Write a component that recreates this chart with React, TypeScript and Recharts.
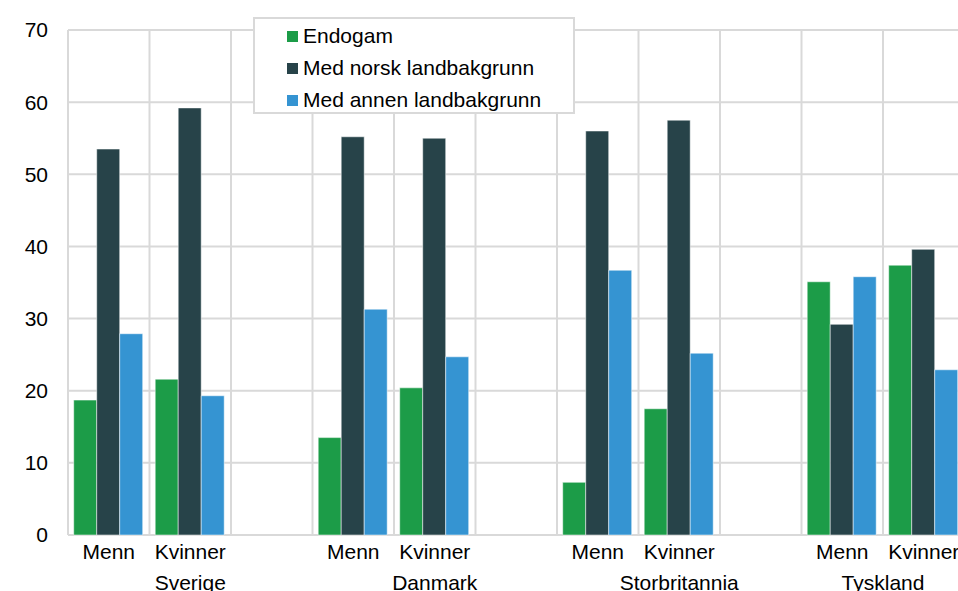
import { BarChart, Bar, XAxis, YAxis, CartesianGrid } from "recharts";

const categories = ["Menn", "Kvinner", "", "Menn", "Kvinner", "", "Menn", "Kvinner", "", "Menn", "Kvinner"];
const endogam = [18.7, 21.6, null, 13.5, 20.4, null, 7.3, 17.5, null, 35.1, 37.4];
const norsk = [53.5, 59.2, null, 55.2, 55.0, null, 56.0, 57.5, null, 29.2, 39.6];
const annen = [27.9, 19.3, null, 31.3, 24.7, null, 36.7, 25.2, null, 35.8, 22.9];

const countries = ["Sverige", "Danmark", "Storbritannia", "Tyskland"];
const groupStart = [0, 3, 6, 9];
const groupSize = [3, 3, 3, 2];

const yTicks = [0, 10, 20, 30, 40, 50, 60, 70];

const series = [
  { key: "endogam", name: "Endogam", color: "#1c9c48" },
  { key: "norsk", name: "Med norsk landbakgrunn", color: "#274349" },
  { key: "annen", name: "Med annen landbakgrunn", color: "#3594d2" },
];

const data = categories.map((c, i) => ({
  cat: c,
  endogam: endogam[i],
  norsk: norsk[i],
  annen: annen[i],
}));

const CHART_W = 980;
const CHART_H = 591;
const Y_W = 68;
const PLOT_W = 896.5;
const MARGIN = { top: 30, right: CHART_W - Y_W - PLOT_W, bottom: 0, left: 0 };
const FONT = "'Liberation Sans', Arial, sans-serif";
const FS = 21;

function CatTick({ x, y, payload, index }: any) {
  const band = PLOT_W / categories.length;
  const g = groupStart.indexOf(index);
  return (
    <g>
      <text x={x} y={y + 24} textAnchor="middle" fontSize={FS} fill="#000" fontFamily={FONT}>
        {payload.value}
      </text>
      {g >= 0 && (
        <text
          x={x + ((groupSize[g] - 1) / 2) * band}
          y={y + 55}
          textAnchor="middle"
          fontSize={FS}
          fill="#000"
          fontFamily={FONT}
        >
          {countries[g]}
        </text>
      )}
    </g>
  );
}

function LegendBox() {
  return (
    <div
      style={{
        position: "absolute",
        left: 253,
        top: 17,
        boxSizing: "border-box",
        width: 322,
        height: 97,
        border: "2px solid #d9d9d9",
        background: "#fff",
        paddingLeft: 32,
        paddingTop: 1,
        fontFamily: FONT,
        fontSize: FS,
        color: "#000",
      }}
    >
      {series.map((s) => (
        <div key={s.key} style={{ display: "flex", alignItems: "center", height: 32 }}>
          <span style={{ width: 11, height: 11, background: s.color, marginRight: 5, display: "inline-block" }} />
          <span>{s.name}</span>
        </div>
      ))}
    </div>
  );
}

export default function App() {
  return (
    <div
      style={{
        position: "absolute",
        left: 0,
        top: 0,
        width: 958,
        height: 591,
        overflow: "hidden",
        background: "#fff",
        fontFamily: FONT,
      }}
    >
      <BarChart width={CHART_W} height={CHART_H} data={data} margin={MARGIN} barCategoryGap="7%" barGap={0}>
        <CartesianGrid
          stroke="#d9d9d9"
          strokeWidth={2}
          verticalCoordinatesGenerator={({ offset }: any) =>
            categories.map((_, i) => offset.left + (i * offset.width) / categories.length).concat(offset.left + offset.width)
          }
        />
        <XAxis
          dataKey="cat"
          axisLine={false}
          tickLine={false}
          tickSize={0}
          tickMargin={0}
          height={56}
          interval={0}
          tick={<CatTick />}
        />
        <YAxis
          width={Y_W}
          domain={[0, 70]}
          ticks={yTicks}
          axisLine={false}
          tickLine={false}
          tickSize={0}
          tickMargin={20}
          tick={{ fontSize: FS, fill: "#000", fontFamily: FONT }}
        />
        {series.map((s) => (
          <Bar
            key={s.key}
            dataKey={s.key}
            name={s.name}
            fill={s.color}
            stroke="#ffffff"
            strokeOpacity={0.5}
            strokeWidth={1}
            isAnimationActive={false}
          />
        ))}
      </BarChart>
      <LegendBox />
    </div>
  );
}
